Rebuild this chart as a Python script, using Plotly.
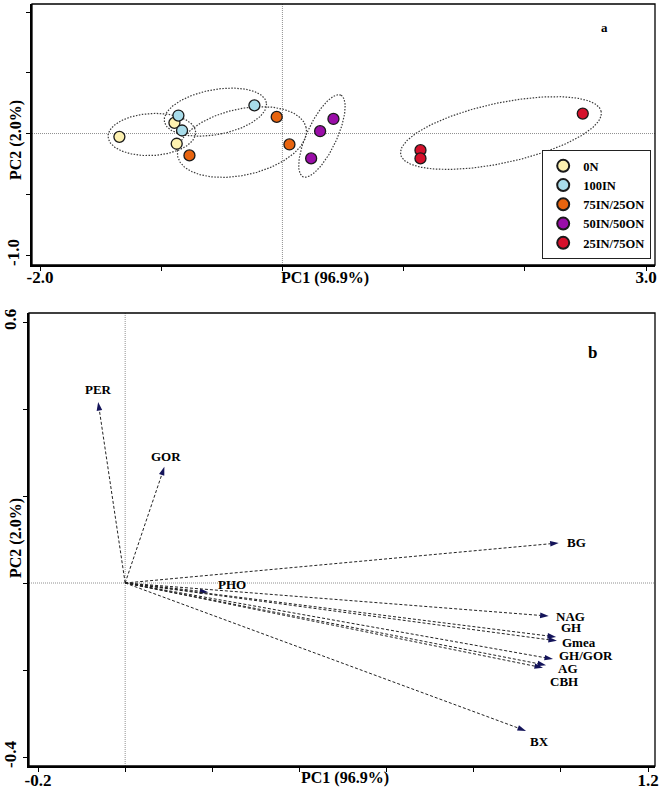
import numpy as np
import plotly.graph_objects as go

# ---------------- data: panel a (scores) ----------------
groups = ["0N", "100IN", "75IN/25ON", "50IN/50ON", "25IN/75ON"]
pc1_scores = [
    [-1.345, -0.891, -0.872],
    [-0.858, -0.828, -0.231],
    [-0.767, -0.047, 0.058],
    [0.421, 0.311, 0.237],
    [2.478, 1.139, 1.139],
]
pc2_scores = [
    [-0.027, 0.088, -0.084],
    [0.148, 0.025, 0.232],
    [-0.180, 0.137, -0.090],
    [0.120, 0.019, -0.205],
    [0.164, -0.137, -0.205],
]
group_colors = ["#FDF1B0", "#A8DCEA", "#E8640F", "#9A0DA8", "#D5102B"]

# confidence ellipses (centre, semi-axes, rotation in degrees)
ell_cx = [-1.077, -0.553, -0.334, 0.326, 1.803]
ell_cy = [-0.008, 0.176, -0.070, -0.020, 0.004]
ell_a = [0.362, 0.428, 0.543, 0.370, 0.846]
ell_b = [0.173, 0.185, 0.272, 0.123, 0.247]
ell_angle = [3, 10.5, 12.7, 65, 12.1]

# ---------------- data: panel b (loadings) ----------------
variables = ["PER", "GOR", "PHO", "BG", "NAG", "GH", "Gmea", "GH/GOR", "AG", "CBH", "BX"]
load_pc1 = [-0.062, 0.090, 0.191, 0.995, 0.972, 0.989, 0.991, 0.982, 0.966, 0.959, 0.920]
load_pc2 = [0.416, 0.267, -0.021, 0.092, -0.076, -0.124, -0.133, -0.175, -0.189, -0.195, -0.340]

# label placement (style): anchor, xshift px, yshift px
label_style = {
    "PER": ("center", 0, 13), "GOR": ("center", 2, 10), "PHO": ("center", 24, 8),
    "BG": ("left", 6, 0), "NAG": ("left", 5, 0), "GH": ("left", 3, 9),
    "Gmea": ("left", 3, -2), "GH/GOR": ("left", 4, 4), "AG": ("left", 10, -3),
    "CBH": ("left", 5, -14), "BX": ("left", 2, -11),
}

a_xticks = [-2, -1, 0, 1, 2, 3]
a_xticklabels = ["-2.0", "", "", "", "", "3.0"]
a_yticks = [-1, -0.5, 0, 0.5, 1]
a_yticklabels = ["-1.0", "", "", "", "1.0"]
b_xticks = [-0.2, 0, 0.2, 0.4, 0.6, 0.8, 1.0, 1.2]
b_xticklabels = ["-0.2", "", "", "", "", "", "", "1.2"]
b_yticks = [-0.4, -0.2, 0, 0.2, 0.4, 0.6]
b_yticklabels = ["-0.4", "", "", "", "", "0.6"]

FONT = "Liberation Serif, Times New Roman, serif"
W, H = 661, 795

fig = go.Figure()

# ellipses
t = np.linspace(0, 2 * np.pi, 240)
for cx, cy, a, b, ang in zip(ell_cx, ell_cy, ell_a, ell_b, ell_angle):
    th = np.deg2rad(ang)
    ex = cx + a * np.cos(th) * np.cos(t) - b * np.sin(th) * np.sin(t)
    ey = cy + a * np.sin(th) * np.cos(t) + b * np.cos(th) * np.sin(t)
    fig.add_trace(go.Scatter(x=ex, y=ey, mode="lines", xaxis="x", yaxis="y",
                             line=dict(color="#3a3a3a", width=1.2, dash="1.5px,1.5px"),
                             showlegend=False, hoverinfo="skip"))

# points
for g, xs, ys, c in zip(groups, pc1_scores, pc2_scores, group_colors):
    fig.add_trace(go.Scatter(x=xs, y=ys, mode="markers", name=g, xaxis="x", yaxis="y",
                             marker=dict(size=11, color=c, line=dict(color="#1a1a1a", width=1.3))))

# arrows
for v, x1, y1 in zip(variables, load_pc1, load_pc2):
    fig.add_trace(go.Scatter(x=[0, x1], y=[0, y1], mode="lines+markers", xaxis="x2", yaxis="y2",
                             line=dict(color="#222222", width=1, dash="3px,2px"),
                             marker=dict(symbol="arrow", angleref="previous", size=9,
                                         color="#14145a", line=dict(width=0)),
                             showlegend=False, hoverinfo="skip"))
    anc, xs_, ys_ = label_style[v]
    fig.add_annotation(x=x1, y=y1, xref="x2", yref="y2", text=v, showarrow=False,
                       xanchor=anc, yanchor="middle", xshift=xs_, yshift=ys_,
                       font=dict(family=FONT, size=13, color="black", weight="bold"))

axis_common = dict(showline=True, linecolor="black", linewidth=2, mirror=False,
                   ticks="outside", ticklen=4, tickwidth=1, tickcolor="black",
                   showgrid=False, zeroline=False, automargin=False,
                   tickfont=dict(family=FONT, size=17, color="black", weight="bold"))

fig.update_layout(
    width=W, height=H, margin=dict(l=0, r=0, t=0, b=0),
    paper_bgcolor="white", plot_bgcolor="white",
    xaxis=dict(domain=[32 / W, 655 / W], anchor="y", range=[-2.066, 3.074],
               tickmode="array", tickvals=a_xticks, ticktext=a_xticklabels,
               ticklabelstandoff=-8, **axis_common),
    yaxis=dict(domain=[1 - 265 / H, 1 - 4 / H], anchor="x", range=[-1.082, 1.066],
               tickmode="array", tickvals=a_yticks, ticktext=a_yticklabels, tickangle=-90,
               **axis_common),
    xaxis2=dict(domain=[29 / W, 655 / W], anchor="y2", range=[-0.2207, 1.216],
                tickmode="array", tickvals=b_xticks, ticktext=b_xticklabels,
                ticklabelstandoff=-6, **axis_common),
    yaxis2=dict(domain=[1 - 766 / H, 1 - 313 / H], anchor="x2", range=[-0.4207, 0.6207],
                tickmode="array", tickvals=b_yticks, ticktext=b_yticklabels, tickangle=-90,
                **axis_common),
    legend=dict(x=651 / W, xanchor="right", y=1 - 259 / H, yanchor="bottom",
                bgcolor="white", bordercolor="#222222", borderwidth=1.2,
                font=dict(family=FONT, size=12.5, color="black", weight="bold"),
                itemsizing="constant", tracegroupgap=0),
    showlegend=True,
)

# frames and reference lines
for xr, yr in (("x", "y"), ("x2", "y2")):
    fig.add_shape(type="rect", xref=f"{xr} domain", yref=f"{yr} domain", x0=0, x1=1, y0=0, y1=1,
                  line=dict(color="black", width=1.3), layer="above")
    fig.add_shape(type="line", xref=xr, yref=f"{yr} domain", x0=0, x1=0, y0=0, y1=1,
                  line=dict(color="#909090", width=1, dash="1px,1px"), layer="below")
    fig.add_shape(type="line", xref=f"{xr} domain", yref=yr, x0=0, x1=1, y0=0, y1=0,
                  line=dict(color="#909090", width=1, dash="1px,1px"), layer="below")

def paper_text(text, px, py, size, angle=0):
    fig.add_annotation(x=px / W, y=1 - py / H, xref="paper", yref="paper", text=text,
                       showarrow=False, xanchor="center", yanchor="middle", textangle=angle,
                       font=dict(family=FONT, size=size, color="black", weight="bold"))

paper_text("PC1 (96.9%)", 325, 278, 16)
paper_text("PC2 (2.0%)", 16, 140, 16, -90)
paper_text("a", 604, 28, 13)
paper_text("PC1 (96.9%)", 345, 778, 16)
paper_text("PC2 (2.0%)", 16, 538, 16, -90)
paper_text("b", 592, 352, 17)

fig.write_html(
    "out.html",
    config={"displayModeBar": False},
    post_script="document.body.style.margin='0';document.documentElement.style.overflow='hidden';",
)
